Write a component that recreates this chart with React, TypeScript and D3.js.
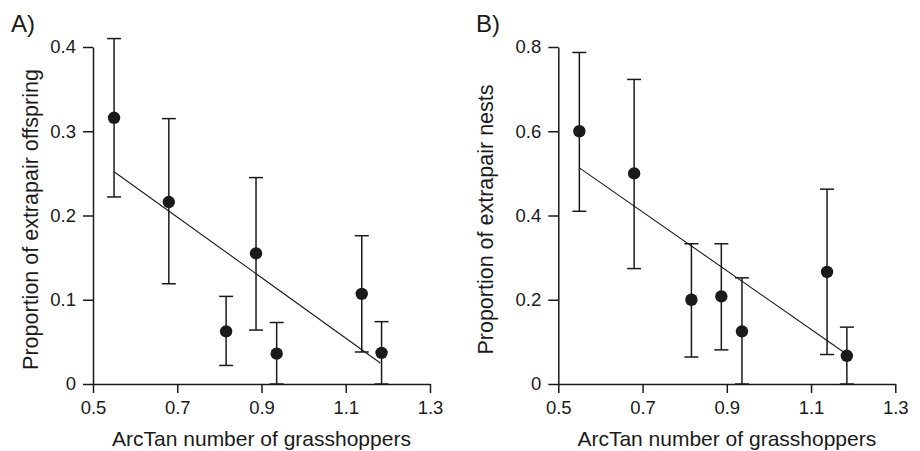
import React, { useEffect, useRef } from 'react';
import * as d3 from 'd3';

// ArcTan number of grasshoppers (same sites in both panels)
const grassX = [0.55, 0.68, 0.816, 0.887, 0.936, 1.138, 1.185];

// A) extrapair offspring
const offMean = [0.316, 0.216, 0.0625, 0.155, 0.036, 0.107, 0.037];
const offHigh = [0.41, 0.315, 0.104, 0.245, 0.073, 0.176, 0.074];
const offLow = [0.222, 0.119, 0.022, 0.064, 0, 0.038, 0];
const offFit = [[0.55, 0.252], [1.182, 0.025]];
const offTicks = [0, 0.1, 0.2, 0.3, 0.4];

// B) extrapair nests
const nestMean = [0.6, 0.5, 0.2, 0.208, 0.125, 0.266, 0.067];
const nestHigh = [0.787, 0.723, 0.333, 0.333, 0.252, 0.4625, 0.135];
const nestLow = [0.41, 0.274, 0.064, 0.081, 0, 0.07, 0];
const nestFit = [[0.55, 0.513], [1.177, 0.076]];
const nestTicks = [0, 0.2, 0.4, 0.6, 0.8];

const xTicks = [0.5, 0.7, 0.9, 1.1, 1.3];

const panels = [
  { label: 'A)', title: 'Proportion of extrapair offspring', mean: offMean, high: offHigh, low: offLow, fit: offFit, yTicks: offTicks, left: 93, labelX: 11, titleX: 38 },
  { label: 'B)', title: 'Proportion of extrapair nests', mean: nestMean, high: nestHigh, low: nestLow, fit: nestFit, yTicks: nestTicks, left: 558.3, labelX: 476, titleX: 493 },
];

const font = '"Liberation Sans", Arial, Helvetica, sans-serif';
const ink = '#1a1a1a';

export default function App() {
  const svgRef = useRef<SVGSVGElement>(null);

  useEffect(() => {
    const svg = d3.select(svgRef.current);
    svg.selectAll('*').remove();

    const top = 47;
    const bottom = 384;
    const plotW = 337;

    panels.forEach(p => {
      const x = d3.scaleLinear().domain([0.5, 1.3]).range([p.left, p.left + plotW]);
      const y = d3.scaleLinear().domain([0, p.yTicks[p.yTicks.length - 1]]).range([bottom, top]);
      const g = svg.append('g').attr('font-family', font).attr('fill', ink);

      // x axis
      const xa = g.append('g')
        .attr('transform', `translate(0,${bottom})`)
        .call(d3.axisBottom(x).tickValues(xTicks).tickSize(9).tickPadding(8).tickFormat(d3.format('.1f')).tickSizeOuter(0));
      xa.select('.domain').attr('stroke', ink).attr('stroke-width', 1.5);
      xa.selectAll('line').attr('stroke', ink).attr('stroke-width', 1.5);
      xa.selectAll('text').attr('font-size', 18.5).attr('fill', ink).attr('font-family', font);

      // y axis
      const ya = g.append('g')
        .attr('transform', `translate(${p.left},0)`)
        .call(d3.axisLeft(y).tickValues(p.yTicks).tickSize(10).tickPadding(7)
          .tickFormat((d: any) => (d === 0 ? '0' : d3.format('.1f')(d))).tickSizeOuter(0));
      ya.select('.domain').attr('stroke', ink).attr('stroke-width', 1.5);
      ya.selectAll('line').attr('stroke', ink).attr('stroke-width', 1.5);
      ya.selectAll('text').attr('font-size', 18.5).attr('fill', ink).attr('font-family', font);

      // regression line
      g.append('path')
        .datum(p.fit)
        .attr('fill', 'none')
        .attr('stroke', ink)
        .attr('stroke-width', 1.1)
        .attr('d', d3.line<number[]>().x(d => x(d[0])).y(d => y(d[1])));

      // error bars
      const cap = 7;
      const bars = g.append('g').attr('stroke', ink).attr('stroke-width', 1.5);
      grassX.forEach((gx, i) => {
        const cx = x(gx);
        bars.append('line').attr('x1', cx).attr('x2', cx).attr('y1', y(p.high[i])).attr('y2', y(p.low[i]));
        bars.append('line').attr('x1', cx - cap).attr('x2', cx + cap).attr('y1', y(p.high[i])).attr('y2', y(p.high[i]));
        bars.append('line').attr('x1', cx - cap).attr('x2', cx + cap).attr('y1', y(p.low[i])).attr('y2', y(p.low[i]));
      });

      // points
      g.append('g')
        .selectAll('circle')
        .data(grassX)
        .join('circle')
        .attr('cx', d => x(d))
        .attr('cy', (_, i) => y(p.mean[i]))
        .attr('r', 6.2)
        .attr('fill', ink);

      // axis titles
      g.append('text')
        .attr('x', p.left + plotW / 2)
        .attr('y', 446)
        .attr('text-anchor', 'middle')
        .attr('font-size', 21)
        .text('ArcTan number of grasshoppers');

      g.append('text')
        .attr('transform', `translate(${p.titleX},${(top + bottom) / 2 + 4}) rotate(-90)`)
        .attr('text-anchor', 'middle')
        .attr('font-size', 21.5)
        .text(p.title);

      // panel label
      g.append('text')
        .attr('x', p.labelX)
        .attr('y', 32)
        .attr('font-size', 24)
        .text(p.label);
    });
  }, []);

  return (
    <svg
      ref={svgRef}
      width={920}
      height={451}
      style={{ position: 'absolute', left: 0, top: 0, background: '#fff' }}
    />
  );
}
